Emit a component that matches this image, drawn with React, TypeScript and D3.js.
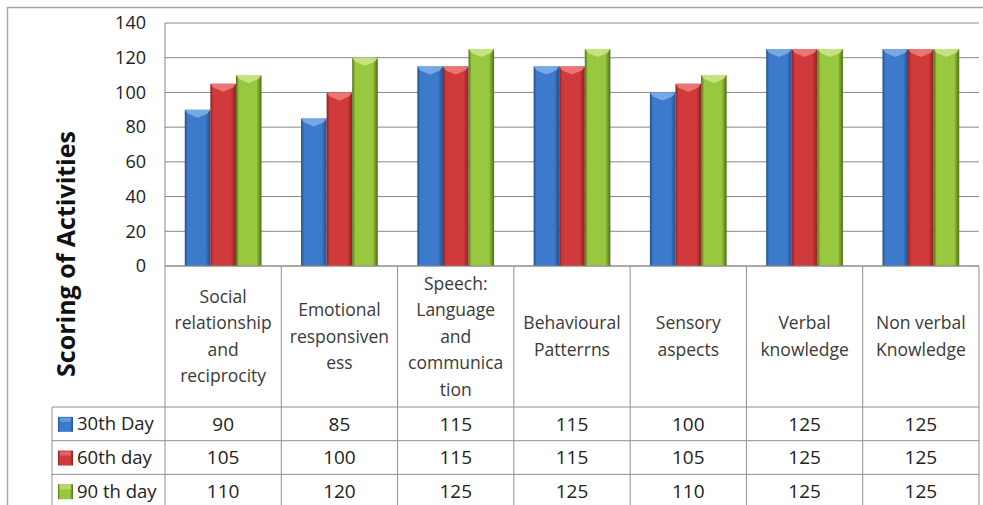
import React from "react";
import * as d3 from "d3";

const categories: string[][] = [
  ["Social", "relationship", "and", "reciprocity"],
  ["Emotional", "responsiven", "ess"],
  ["Speech:", "Language", "and", "communica", "tion"],
  ["Behavioural", "Patterrns"],
  ["Sensory", "aspects"],
  ["Verbal", "knowledge"],
  ["Non verbal", "Knowledge"],
];
const seriesNames = ["30th Day", "60th day", "90 th day"];
const day30 = [90, 85, 115, 115, 100, 125, 125];
const day60 = [105, 100, 115, 115, 105, 125, 125];
const day90 = [110, 120, 125, 125, 110, 125, 125];
const yTicks = [0, 20, 40, 60, 80, 100, 120, 140];

const series = [day30, day60, day90];
const colors = [
  { base: "#3c7bcb", dark: "#234f8c", light: "#7fb0ea" },
  { base: "#d03a3a", dark: "#8e1f1f", light: "#ef8080" },
  { base: "#98c840", dark: "#4f6e16", light: "#cde88a" },
];

const W = 983;
const H = 505;
const plotL = 165;
const plotR = 979;
const plotT = 23;
const plotB = 266;
const tableL = 52;
const headerB = 407;
const rowH = 33.7;

export default function App() {
  const idx = categories.map((_, i) => i);
  const x = d3.scaleBand<number>().domain(idx).range([plotL, plotR]).paddingInner(0).paddingOuter(0);
  const bw = x.bandwidth();
  const groupPad = 0.17;
  const xs = d3
    .scaleBand<number>()
    .domain([0, 1, 2])
    .range([bw * groupPad, bw * (1 - groupPad)])
    .padding(0);
  const y = d3.scaleLinear().domain([0, 140]).range([plotB, plotT]);
  const font = "'Open Sans', 'Noto Sans', sans-serif";

  return (
    <svg
      width={W}
      height={H}
      style={{ position: "absolute", left: 0, top: 0, background: "#fff" }}
      fontFamily={font}
    >
      <defs>
        {colors.map((c, i) => (
          <linearGradient key={i} id={`g${i}`} x1="0" x2="1" y1="0" y2="0">
            <stop offset="0%" stopColor={c.dark} />
            <stop offset="12%" stopColor={c.base} />
            <stop offset="80%" stopColor={c.base} />
            <stop offset="100%" stopColor={c.dark} />
          </linearGradient>
        ))}
      </defs>
      {/* outer frame */}
      <line x1={7.5} x2={7.5} y1={7} y2={H} stroke="#a6a6a6" strokeWidth={1.5} />
      <line x1={7} x2={W} y1={7.5} y2={7.5} stroke="#a6a6a6" strokeWidth={1.5} />

      {/* grid lines */}
      {yTicks.map((t) => (
        <line
          key={t}
          x1={plotL}
          x2={plotR}
          y1={y(t)}
          y2={y(t)}
          stroke="#868686"
          strokeWidth={1}
        />
      ))}
      <line x1={plotL} x2={plotL} y1={plotT} y2={plotB} stroke="#868686" />

      {/* y tick labels */}
      {yTicks.map((t) => (
        <text
          key={t}
          x={146}
          y={y(t)}
          dy="0.35em"
          textAnchor="end"
          fontSize={18}
          fill="#222"
        >
          {t}
        </text>
      ))}

      {/* y axis title */}
      <text
        transform={`translate(75, ${254}) rotate(-90)`}
        textAnchor="middle"
        fontSize={25}
        fontWeight="bold"
        fill="#111"
      >
        Scoring of Activities
      </text>

      {/* bars */}
      {series.map((vals, s) =>
        vals.map((v, i) => {
          const bx = (x(i) as number) + (xs(s) as number);
          const w = xs.bandwidth();
          const by = y(v);
          const h = y(0) - by;
          const cap = `M${bx},${by} L${bx + w},${by} L${bx + w - 3},${by + 4} L${bx + w / 2},${by + 8} L${bx + 3},${by + 4} Z`;
          return (
            <g key={`${s}-${i}`}>
              <rect x={bx} y={by} width={w} height={h} fill={`url(#g${s})`} />
              <path d={cap} fill={colors[s].light} opacity={0.85} />
            </g>
          );
        })
      )}

      {/* table grid */}
      <line x1={plotL} x2={plotR} y1={plotB} y2={plotB} stroke="#909090" />
      {idx.concat([7]).map((i) => {
        const xx = i < 7 ? (x(i) as number) : plotR;
        return (
          <line key={i} x1={xx} x2={xx} y1={plotB} y2={H} stroke="#909090" />
        );
      })}
      <line x1={tableL} x2={tableL} y1={headerB} y2={H} stroke="#909090" />
      {[0, 1, 2].map((r) => (
        <line
          key={r}
          x1={tableL}
          x2={plotR}
          y1={headerB + r * rowH}
          y2={headerB + r * rowH}
          stroke="#909090"
        />
      ))}

      {/* category labels */}
      {categories.map((lines, i) => {
        const cx = (x(i) as number) + bw / 2;
        const cy = (plotB + headerB) / 2;
        const lh = 26.5;
        const y0 = cy - ((lines.length - 1) * lh) / 2;
        return (
          <text key={i} textAnchor="middle" fontSize={17.5} fill="#3a3a3a">
            {lines.map((ln, k) => (
              <tspan key={k} x={cx} y={y0 + k * lh} dy="0.35em">
                {ln}
              </tspan>
            ))}
          </text>
        );
      })}

      {/* table rows */}
      {series.map((vals, s) => {
        const cy = headerB + s * rowH + rowH / 2;
        return (
          <g key={s}>
            <rect x={58} y={cy - 7} width={15} height={15} fill={`url(#g${s})`} />
            <rect x={60} y={cy - 6} width={11} height={4} fill={colors[s].light} opacity={0.6} />
            <text x={77} y={cy} dy="0.35em" fontSize={18.5} fill="#222">
              {seriesNames[s]}
            </text>
            {vals.map((v, i) => (
              <text
                key={i}
                x={(x(i) as number) + bw / 2}
                y={cy}
                dy="0.35em"
                textAnchor="middle"
                fontSize={19}
                fill="#222"
              >
                {v}
              </text>
            ))}
          </g>
        );
      })}
    </svg>
  );
}
